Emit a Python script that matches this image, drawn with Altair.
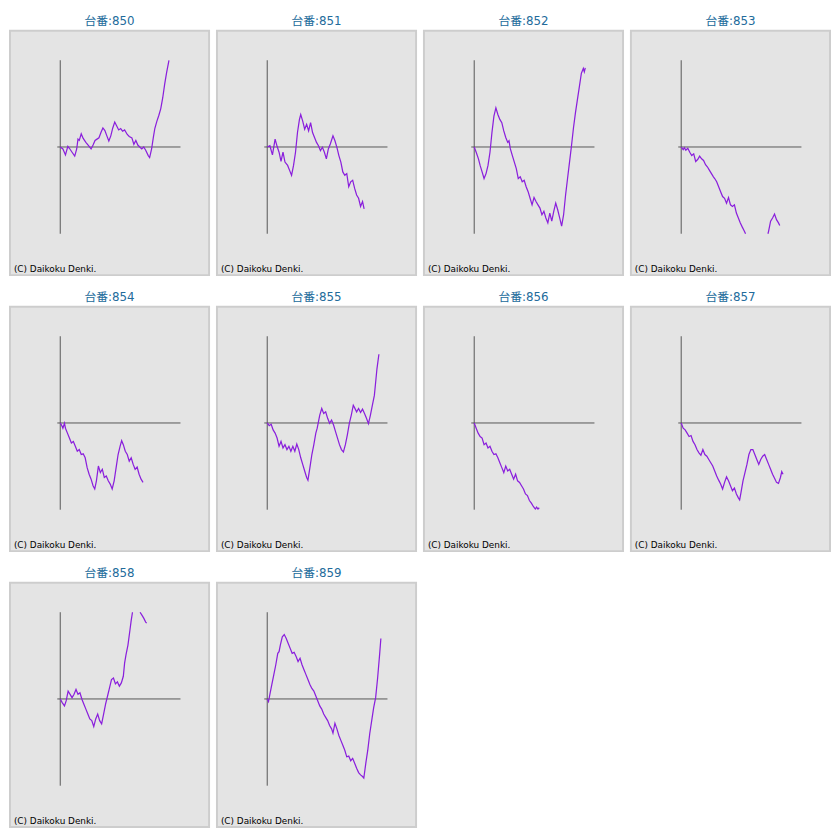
import altair as alt
import pandas as pd

machines = ["850", "851", "852", "853", "854", "855", "856", "857", "858", "859"]

# games played (x) and coin difference (y)
games_850 = [0, 135, 265, 385, 465, 600, 735, 835, 900, 965, 1065, 1165, 1300, 1435, 1565, 1665, 1765, 1865, 1965, 2065,
             2165, 2265, 2365, 2465, 2565, 2665, 2765, 2865, 2965, 3065, 3165, 3265, 3400, 3500, 3635, 3735, 3835, 3935, 4035, 4135,
             4235, 4335, 4465, 4535, 4635, 4725, 4800, 4900, 5000, 5100, 5200, 5300, 5400, 5515]
coins_850 = [0, -100, -400, 35, -65, -265, -465, -100, 400, 335, 665, 435, 235, 65, -100, 100, 335, 400, 465, 735,
             965, 835, 565, 300, 565, 965, 1265, 1065, 865, 935, 800, 865, 635, 535, 465, 135, 335, 100, 0, -100,
             0, -165, -435, -535, -100, 500, 950, 1300, 1600, 1950, 2500, 3200, 3800, 4400]

games_851 = [0, 135, 265, 400, 500, 600, 700, 800, 900, 1035, 1135, 1235, 1335, 1435, 1535, 1635, 1700, 1800, 1900, 2000,
             2100, 2200, 2300, 2400, 2500, 2600, 2700, 2800, 2900, 3000, 3100, 3200, 3335, 3435, 3535, 3635, 3735, 3835, 3935, 4035,
             4135, 4235, 4335, 4435, 4535, 4635, 4735, 4835, 4915]
coins_851 = [0, 65, -400, 400, 35, -265, -735, -265, -765, -935, -1185, -1435, -935, -265, 735, 1400, 1650, 1315, 900, 1150,
             815, 1235, 735, 485, 235, 65, -185, -15, -265, -600, -100, 150, 565, 315, -15, -435, -765, -1265, -1435, -1350,
             -2015, -1765, -1685, -2100, -2435, -2600, -3015, -2765, -3135]

games_852 = [0, 100, 215, 300, 400, 500, 600, 700, 800, 900, 1000, 1100, 1200, 1300, 1400, 1500, 1600, 1700, 1765, 1835,
             1935, 2035, 2135, 2235, 2335, 2435, 2535, 2635, 2735, 2835, 2935, 3035, 3135, 3235, 3335, 3435, 3535, 3635, 3735, 3835,
             3935, 4035, 4135, 4235, 4335, 4435, 4535, 4635, 4735, 4835, 4935, 5035, 5135, 5235, 5335, 5435, 5535, 5585, 5635]
coins_852 = [0, -265, -600, -935, -1265, -1600, -1350, -935, -265, 735, 1565, 1985, 1650, 1400, 1235, 815, 485, 235, 315, -100,
             -435, -765, -1100, -1600, -1515, -1765, -1685, -2015, -2265, -2600, -2935, -2565, -2765, -2935, -3100, -3435, -3265, -3600, -3850, -3350,
             -3765, -3265, -2850, -3185, -3600, -4015, -3435, -2435, -1600, -765, 65, 965, 1735, 2400, 3065, 3735, 3985, 3815, 4015]

games_853 = [0, 100, 165, 235, 335, 435, 535, 635, 735, 835, 935, 1035, 1135, 1235, 1335, 1435, 1535, 1635, 1700, 1800,
             1900, 2000, 2100, 2200, 2300, 2400, 2500, 2600, 2700, 2800, 2900, 3000, 3100, 3200, 3265, 3500, 3800, 4100,
             4400, 4435, 4535, 4635, 4735, 4835, 4935, 5000]
coins_853 = [0, -135, -35, -165, -65, -265, -435, -350, -735, -635, -465, -600, -685, -900, -1015, -1185, -1350, -1515, -1600, -1765,
             -2015, -2265, -2515, -2600, -2850, -2565, -2935, -3015, -2935, -3350, -3600, -3850, -4065, -4265, -4400, -4600, -4800, -4650,
             -4400, -4265, -3765, -3600, -3400, -3685, -3850, -3985]

games_854 = [0, 65, 135, 215, 265, 365, 465, 565, 665, 765, 865, 965, 1065, 1165, 1265, 1365, 1465, 1565, 1665, 1750,
             1835, 1935, 2035, 2135, 2235, 2335, 2435, 2535, 2635, 2735, 2835, 2935, 3035, 3115, 3200, 3300, 3400, 3500, 3600, 3700,
             3800, 3900, 4000, 4100, 4200]
coins_854 = [0, -100, -265, -15, -265, -515, -765, -1015, -935, -1185, -1435, -1350, -1600, -1565, -1765, -2265, -2600, -2850, -3185, -3350,
             -2935, -2185, -2515, -2350, -2765, -2685, -2935, -3100, -3350, -2935, -2265, -1600, -1185, -900, -1100, -1435, -1600, -1935, -1765, -2100,
             -2350, -2235, -2600, -2850, -3015]

games_855 = [0, 100, 200, 300, 400, 500, 600, 700, 800, 900, 1000, 1100, 1200, 1300, 1400, 1500, 1600, 1700, 1800, 1900,
             2000, 2065, 2165, 2265, 2365, 2465, 2535, 2600, 2665, 2765, 2865, 2965, 3065, 3165, 3265, 3365, 3465, 3565, 3665, 3765,
             3865, 3965, 4065, 4165, 4265, 4365, 4435, 4535, 4635, 4735, 4835, 4935, 5035, 5135, 5235, 5335, 5435, 5500, 5565, 5665]
coins_855 = [0, -135, -65, -350, -515, -765, -1185, -935, -1265, -1100, -1350, -1185, -1435, -1185, -1435, -1065, -1350, -1765, -2100, -2435,
             -2765, -2900, -2265, -1600, -1100, -515, -265, 65, 400, 735, 485, 565, 235, -15, 150, -100, -435, -765, -1100, -1350,
             -1465, -1100, -600, -15, 400, 900, 765, 565, 735, 535, 700, 485, 235, -35, 400, 900, 1400, 2065, 2735, 3485]

games_856 = [0, 100, 200, 300, 400, 500, 600, 700, 800, 900, 1000, 1100, 1200, 1300, 1400, 1500, 1600, 1700, 1800, 1900,
             2000, 2100, 2200, 2300, 2400, 2500, 2600, 2700, 2800, 2900, 3000, 3100, 3165, 3235, 3300]
coins_856 = [0, -265, -515, -685, -765, -1100, -1015, -1265, -1185, -1435, -1600, -1565, -1765, -2015, -2265, -2515, -2185, -2435, -2350, -2600,
             -2850, -2600, -2935, -3015, -3185, -3350, -3600, -3685, -3935, -4065, -4235, -4365, -4265, -4365, -4300]

games_857 = [0, 100, 200, 300, 400, 500, 600, 700, 800, 900, 1000, 1100, 1200, 1300, 1400, 1500, 1600, 1700, 1800, 1900,
             2000, 2100, 2200, 2300, 2400, 2500, 2600, 2700, 2800, 2900, 2965, 3035, 3135, 3235, 3335, 3435, 3535, 3635, 3735, 3835,
             3935, 4035, 4135, 4235, 4335, 4435, 4535, 4635, 4735, 4835, 4935, 5035, 5100, 5165]
coins_857 = [0, -265, -350, -515, -685, -635, -935, -1100, -1350, -1515, -1635, -1350, -1600, -1685, -1850, -2015, -2185, -2435, -2685, -2900,
             -3100, -3350, -3015, -2735, -2935, -3185, -3435, -3300, -3600, -3800, -3900, -3515, -2935, -2515, -2100, -1600, -1350, -1350, -1600, -1850,
             -2100, -1850, -1685, -1600, -1850, -2100, -2350, -2600, -2800, -3015, -3065, -2765, -2465, -2600]

games_858 = [0, 100, 215, 300, 400, 500, 600, 700, 800, 900, 1000, 1100, 1200, 1300, 1400, 1500, 1600, 1700, 1800, 1900,
             2000, 2100, 2200, 2300, 2400, 2500, 2600, 2700, 2800, 2900, 3000, 3100, 3200, 3265, 3335, 3435, 3535, 3600, 3665,
             3800, 3950, 4050, 4135, 4235, 4335, 4385]
coins_858 = [0, -185, -350, -100, 400, 235, 65, 235, 485, 235, 315, -15, -265, -515, -765, -1015, -1100, -1400, -1015, -765,
             -1100, -1265, -765, -265, 150, 565, 985, 1065, 765, 865, 650, 815, 1150, 1815, 2235, 2735, 3485, 3985, 4400,
             4700, 4600, 4400, 4265, 4100, 3900, 3850]

games_859 = [0, 65, 135, 235, 335, 435, 535, 600, 665, 765, 865, 965, 1065, 1165, 1265, 1365, 1465, 1565, 1665, 1765,
             1865, 1965, 2065, 2165, 2265, 2365, 2465, 2565, 2665, 2765, 2865, 2965, 3065, 3165, 3265, 3335, 3435, 3535, 3635, 3735,
             3835, 3935, 4035, 4135, 4235, 4335, 4435, 4535, 4635, 4735, 4835, 4900, 5000, 5100, 5200, 5300, 5400, 5500, 5600, 5700, 5765]
coins_859 = [0, -135, 235, 735, 1235, 1735, 2315, 2400, 2735, 3150, 3265, 3065, 2815, 2565, 2315, 2365, 2150, 1900, 2065, 1735,
             1485, 1235, 985, 735, 535, 400, 150, -100, -350, -515, -765, -935, -1100, -1350, -1515, -1735, -1235, -1515, -1850, -2100,
             -2350, -2600, -2935, -2900, -3135, -3015, -3265, -3515, -3735, -3850, -3935, -4015, -3265, -2600, -1765, -1100, -435, 65, 1065, 2235, 3065]

series = {
    "850": (games_850, coins_850), "851": (games_851, coins_851), "852": (games_852, coins_852),
    "853": (games_853, coins_853), "854": (games_854, coins_854), "855": (games_855, coins_855),
    "856": (games_856, coins_856), "857": (games_857, coins_857), "858": (games_858, coins_858),
    "859": (games_859, coins_859),
}

COIN_LIMIT = 4400            # graph frame: +/- coins
GAME_AXIS = [-150, 6100]     # extent of the zero line
X_DOMAIN = [-2550, 7550]
Y_DOMAIN = [-6500, 5900]
PANEL_W, PANEL_H = 202, 248


def split_visible(xs, ys, lim):
    df = pd.DataFrame({"games": xs, "coins": ys})
    seg, rows, was_in = 0, [], True
    for g, c in zip(df["games"], df["coins"]):
        if abs(c) > lim:
            if was_in:
                seg += 1
            was_in = False
            continue
        was_in = True
        rows.append({"games": g, "coins": c, "seg": seg})
    return pd.DataFrame(rows)


xscale = alt.Scale(domain=X_DOMAIN, nice=False, zero=False)
yscale = alt.Scale(domain=Y_DOMAIN, nice=False, zero=False)

panels = []
for m in machines:
    xs, ys = series[m]
    line_df = split_visible(xs, ys, COIN_LIMIT)

    hline = alt.Chart(pd.DataFrame({"g0": [GAME_AXIS[0]], "g1": [GAME_AXIS[1]], "c": [0]})).mark_rule(
        color="#555555", strokeWidth=1
    ).encode(x=alt.X("g0:Q", scale=xscale, axis=None), x2="g1:Q", y=alt.Y("c:Q", scale=yscale, axis=None))

    vline = alt.Chart(pd.DataFrame({"g": [0], "c0": [-COIN_LIMIT], "c1": [COIN_LIMIT]})).mark_rule(
        color="#555555", strokeWidth=1
    ).encode(x=alt.X("g:Q", scale=xscale, axis=None), y=alt.Y("c0:Q", scale=yscale, axis=None), y2="c1:Q")

    line = alt.Chart(line_df).mark_line(color="#8a1fdc", strokeWidth=1.25).encode(
        x=alt.X("games:Q", scale=xscale, axis=None),
        y=alt.Y("coins:Q", scale=yscale, axis=None),
        detail="seg:N",
        order="games:Q",
    )

    credit = alt.Chart(pd.DataFrame({"t": ["(C) Daikoku Denki."]})).mark_text(
        align="left", baseline="middle", fontSize=9, font="DejaVu Sans", color="#000000"
    ).encode(x=alt.value(4), y=alt.value(242), text="t:N")

    panel = alt.layer(hline, vline, line, credit).properties(
        width=PANEL_W, height=PANEL_H, title=f"台番:{m}"
    )
    panels.append(panel)

chart = alt.concat(*panels, columns=4, spacing={"row": 14, "column": 6}).properties(
    padding={"left": 1, "top": 0, "right": 1, "bottom": 1}
).configure_view(
    fill="#e4e4e4", stroke="#cdcdcd", strokeWidth=2
).configure_title(
    fontSize=12, font="DejaVu Sans, Noto Sans CJK JP", fontWeight="normal", color="#226b9b", offset=3, anchor="middle"
)

chart.save("out.html", embed_options={"renderer": "svg", "actions": False})
